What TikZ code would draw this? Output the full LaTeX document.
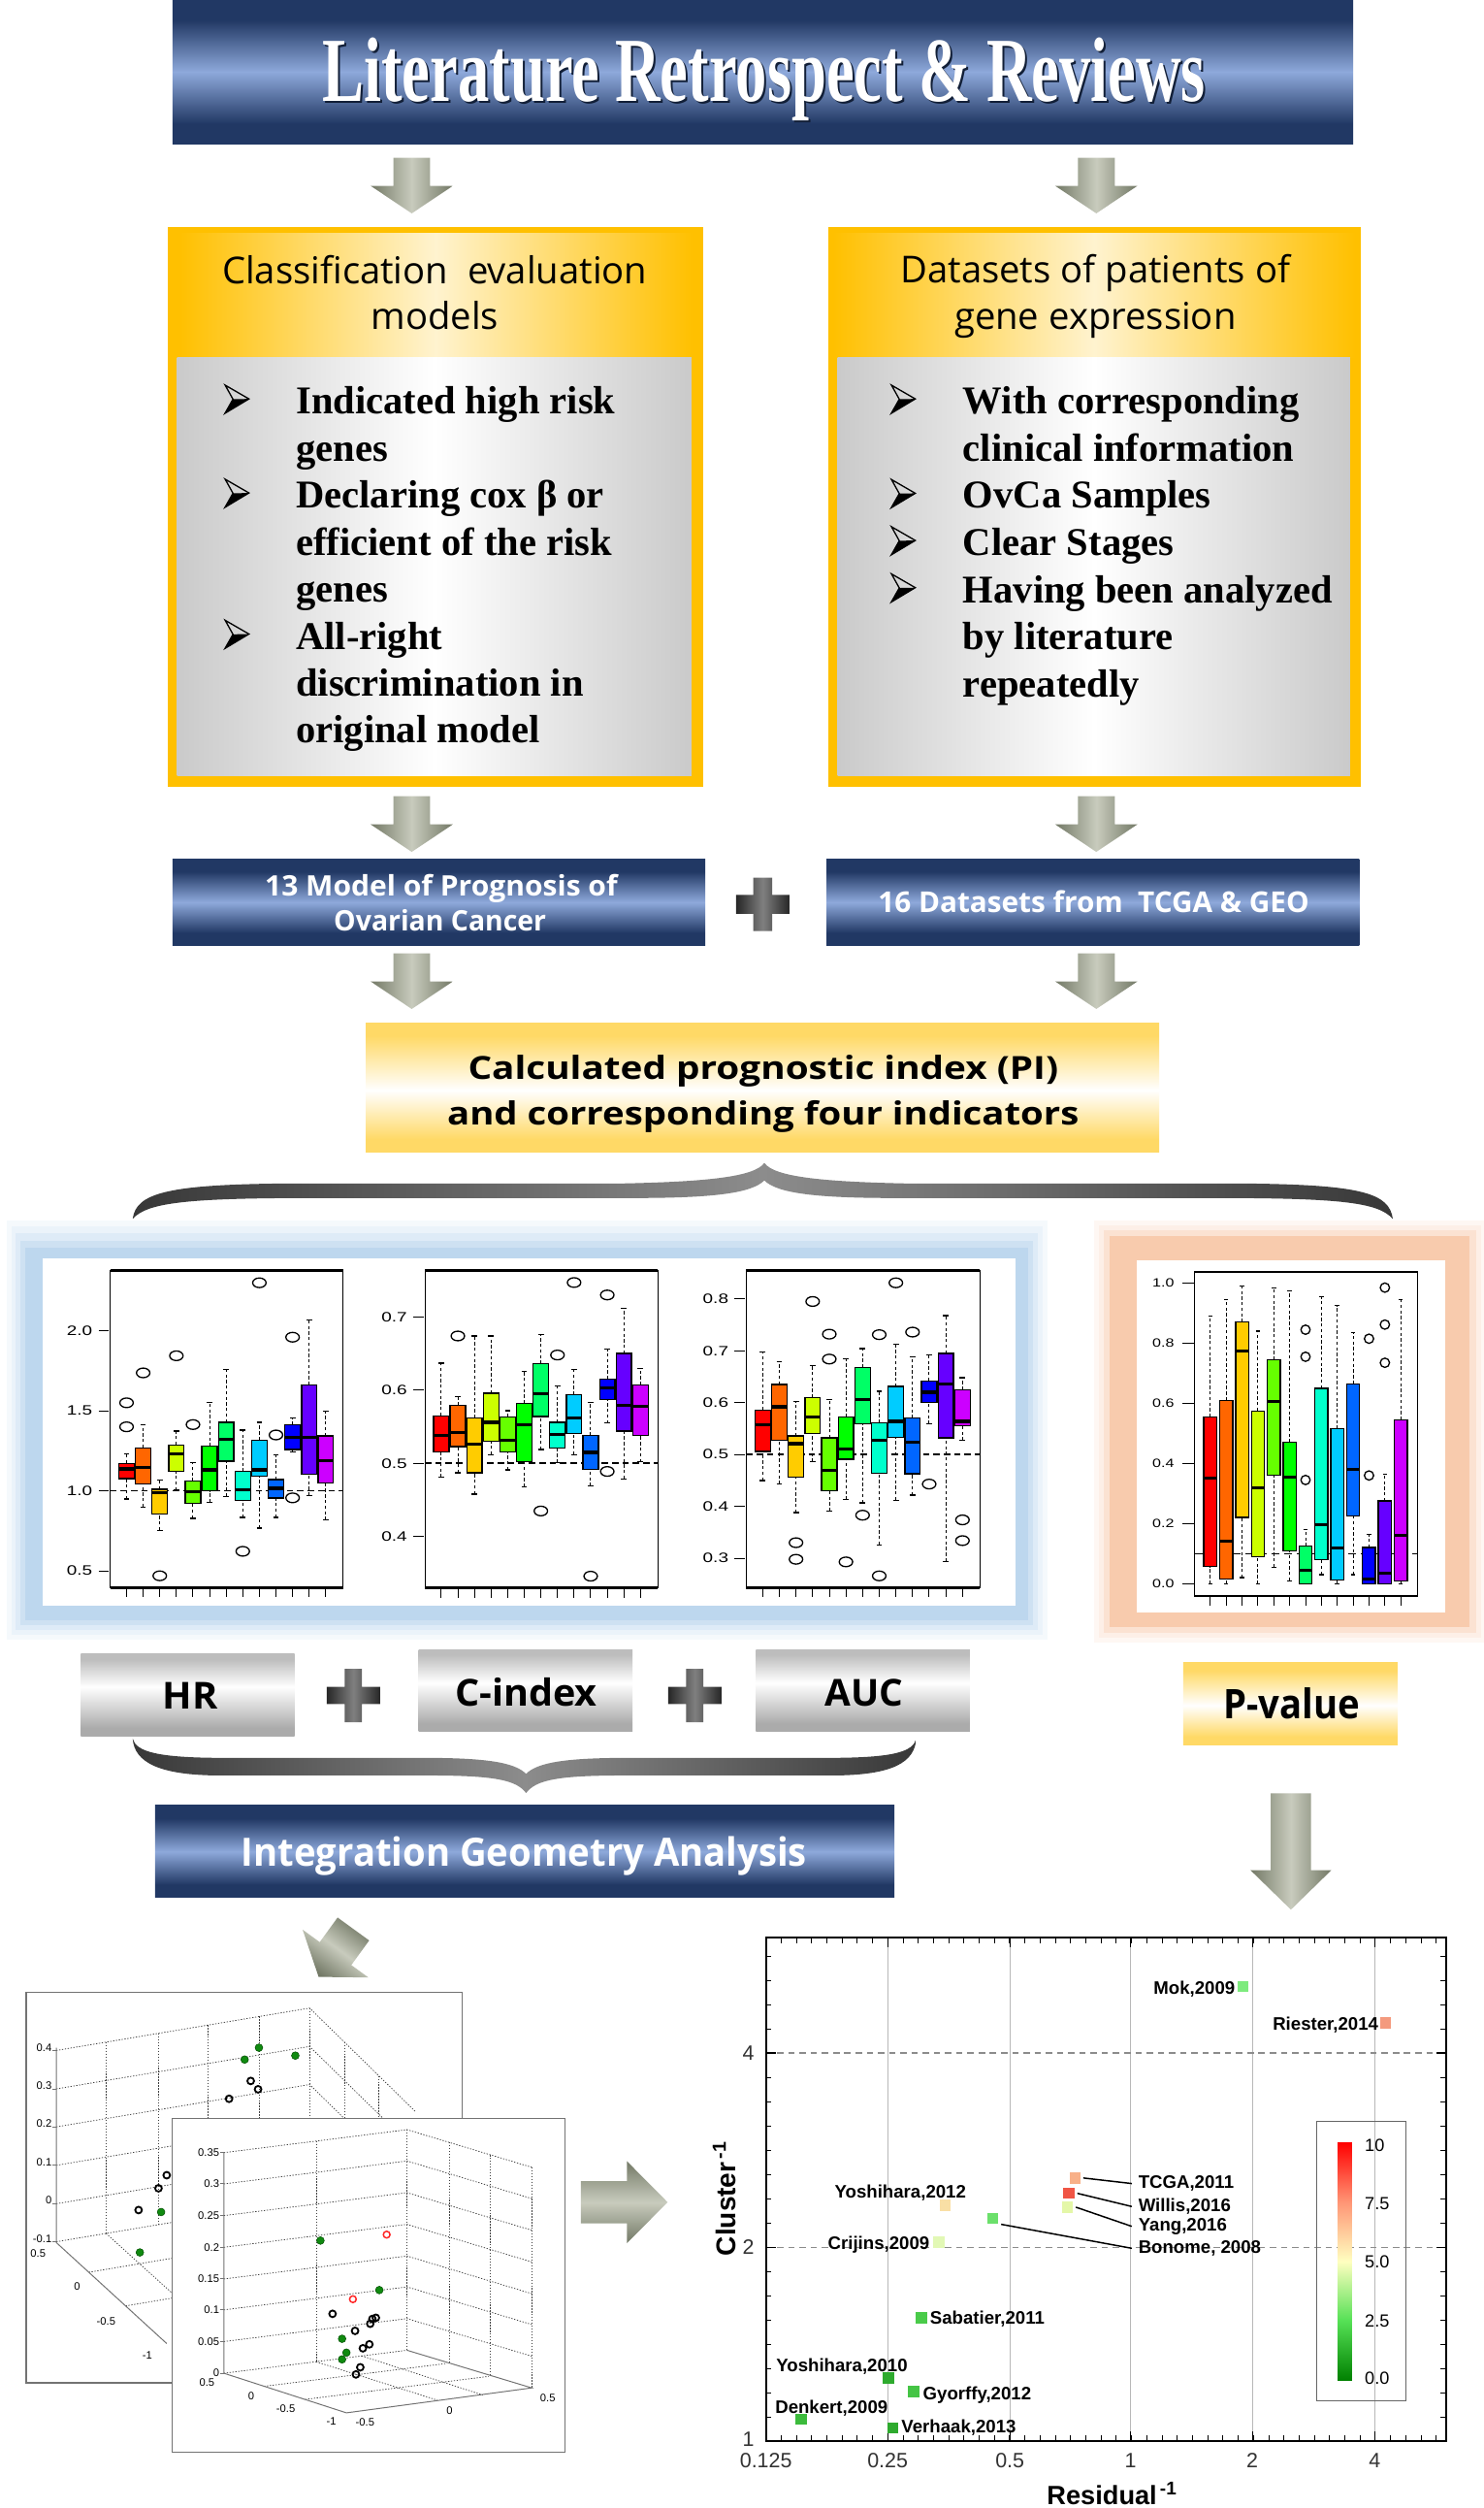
\documentclass[tikz,border=0pt]{standalone}
\usepackage{fontspec}
\usepackage{graphicx}
\setmainfont{Liberation Serif}
\newfontfamily\osans{Open Sans}
\newfontfamily\lsans{Liberation Sans}
\newcommand\fitt[3]{\resizebox{#1}{#2}{\rule{0pt}{\fontcharht\font`H}\smash{#3}}}

\definecolor{navy}{HTML}{213864}
\definecolor{navylt}{HTML}{8EA9DB}
\definecolor{orng}{HTML}{FFC000}
\definecolor{orngpale}{HTML}{FFF3CF}
\definecolor{ardark}{HTML}{737966}
\definecolor{arlt}{HTML}{C8CBBD}
\definecolor{yel}{HTML}{FFD966}
\definecolor{gbox}{HTML}{BDBDBD}
\definecolor{gboxd}{HTML}{ABABAB}
\definecolor{ginner}{HTML}{CACACA}
\definecolor{brdark}{HTML}{383838}
\definecolor{brlt}{HTML}{8C8C8C}
\definecolor{blueglow}{HTML}{BDD7EE}
\definecolor{orglow}{HTML}{F8CBAD}
\definecolor{c1}{HTML}{FF0000}
\definecolor{c2}{HTML}{FF6600}
\definecolor{c3}{HTML}{FFCC00}
\definecolor{c4}{HTML}{CCFF00}
\definecolor{c5}{HTML}{66FF00}
\definecolor{c6}{HTML}{00FF00}
\definecolor{c7}{HTML}{00FF66}
\definecolor{c8}{HTML}{00FFCC}
\definecolor{c9}{HTML}{00CCFF}
\definecolor{c10}{HTML}{0066FF}
\definecolor{c11}{HTML}{0000FF}
\definecolor{c12}{HTML}{6600FF}
\definecolor{c13}{HTML}{CC00FF}
\definecolor{cg0}{HTML}{008000}
\definecolor{cg1}{HTML}{55E055}
\definecolor{cg2}{HTML}{FFFFC0}
\definecolor{cg3}{HTML}{FF9575}
\definecolor{cg4}{HTML}{FF0000}
\definecolor{gridg}{HTML}{B8B8B8}
\definecolor{ptgreen}{HTML}{108A10}
\definecolor{smok}{HTML}{7EEB7E}
\definecolor{sries}{HTML}{F49A7E}
\definecolor{stcga}{HTML}{F8B088}
\definecolor{swil}{HTML}{F05545}
\definecolor{syang}{HTML}{E4F7A8}
\definecolor{sbon}{HTML}{6BE06B}
\definecolor{syone}{HTML}{F9DFA5}
\definecolor{scri}{HTML}{E2F8B5}
\definecolor{ssab}{HTML}{4ACB4A}
\definecolor{sytwo}{HTML}{2EAA2E}
\definecolor{sgy}{HTML}{45C445}
\definecolor{sden}{HTML}{3CBB3C}
\definecolor{sver}{HTML}{2EAA2E}

\pgfdeclareverticalshading{navybar}{100bp}{color(0bp)=(navy); color(32bp)=(navy); color(50bp)=(navylt); color(68bp)=(navy); color(100bp)=(navy)}
\pgfdeclareverticalshading{yelbar}{100bp}{color(0bp)=(yel); color(30bp)=(yel); color(49bp)=(white); color(70bp)=(yel); color(100bp)=(yel)}
\pgfdeclareverticalshading{graybar}{100bp}{color(0bp)=(gboxd); color(30bp)=(gboxd); color(55bp)=(white); color(72bp)=(gbox); color(100bp)=(gbox)}
\pgfdeclareverticalshading{cbar}{100bp}{color(0bp)=(cg0); color(25bp)=(cg0); color(37.5bp)=(cg1); color(50bp)=(cg2); color(62.5bp)=(cg3); color(75bp)=(cg4); color(100bp)=(cg4)}

\tikzset{
 navybox/.style={shade, shading=navybar, inner sep=0, outer sep=0},
 yelbox/.style={shade, shading=yelbar, inner sep=0, outer sep=0},
 graybox/.style={shade, shading=graybar, inner sep=0, outer sep=0},
 panelbox/.style={left color=ginner, right color=ginner, middle color=white, inner sep=0},
 arrowsh/.style={left color=ardark, right color=ardark, middle color=arlt},
 rightsh/.style={top color=ardark, bottom color=ardark, middle color=arlt},
 bracesh/.style={left color=brdark, right color=brdark, middle color=brlt},
 plussh/.style={left color=black!85, right color=black!85, middle color=black!50},
 wtxt/.style={anchor=base west, inner sep=0, text=white, font=\osans\bfseries\fontsize{16}{16}\selectfont},
 btxt/.style={anchor=base west, inner sep=0, text=black, font=\osans\bfseries\fontsize{18}{18}\selectfont},
 head/.style={anchor=base, inner sep=0, font=\osans\fontsize{23.2}{23.2}\selectfont},
 bul/.style={anchor=base west, inner sep=0, font=\rmfamily\bfseries\fontsize{24.6}{24.6}\selectfont},
 whisk/.style={line width=0.6pt, dash pattern=on 2pt off 1.5pt},
 capl/.style={line width=0.8pt},
 tl/.style={inner sep=0, font=\lsans\fontsize{8.5}{9}\selectfont},
 tlp/.style={inner sep=0, font=\lsans\fontsize{7.5}{8}\selectfont},
 tl3/.style={inner sep=0, font=\lsans\fontsize{6.8}{7}\selectfont},
 dotline/.style={line width=0.45pt, black!75, dash pattern=on 0.8pt off 1pt},
 axline/.style={line width=0.6pt, black!55},
 gpt/.style={fill=ptgreen, draw=green!30!black, line width=0.3pt},
 kpt/.style={draw=black, line width=1.1pt},
 rpt/.style={draw=red!85, line width=0.9pt},
 sq/.style={minimum width=7pt, minimum height=7pt, inner sep=0, draw=none},
 slab/.style={inner sep=0, font=\lsans\bfseries\fontsize{11.3}{12}\selectfont},
 snum/.style={inner sep=0, text=black!80, font=\lsans\fontsize{13}{13}\selectfont},
 cblab/.style={inner sep=0, font=\lsans\fontsize{11}{11}\selectfont, anchor=west},
 leader/.style={line width=0.9pt}
}

\newcommand\dnarrow[6]{\shade[arrowsh] (#1-#5,#2) -- (#1+#5,#2) -- (#1+#5,#3) -- (#1+#6,#3) -- (#1,#4) -- (#1-#6,#3) -- (#1-#5,#3) -- cycle;}
\newcommand\plussign[4]{\shade[plussh] (#1-#4,#2-#3) -- (#1+#4,#2-#3) -- (#1+#4,#2-#4) -- (#1+#3,#2-#4) -- (#1+#3,#2+#4) -- (#1+#4,#2+#4) -- (#1+#4,#2+#3) -- (#1-#4,#2+#3) -- (#1-#4,#2+#4) -- (#1-#3,#2+#4) -- (#1-#3,#2-#4) -- (#1-#4,#2-#4) -- cycle;}
% dart bullet: x = left edge, y = baseline
\newcommand\dartb[2]{%
 \fill[black] (#1+5.2,#2-9.2) -- (#1+15.2,#2-9.4) -- (#1+0.2,#2-0.4) -- cycle;%
 \draw[black, line width=0.8pt, line join=miter] (#1+0.3,#2-18) -- (#1+15.2,#2-9.4) -- (#1+0.2,#2-0.4) -- (#1+5.2,#2-9.2) -- cycle;}
\newcommand\bpb[7]{%
 \pgfmathsetmacro\bx{\bxo+\bxs*(#1-1)}%
 \draw[whisk] (\bx,#2) -- (\bx,#3) (\bx,#5) -- (\bx,#6);%
 \draw[capl] (\bx-\bcw,#2) -- (\bx+\bcw,#2) (\bx-\bcw,#6) -- (\bx+\bcw,#6);%
 \filldraw[fill=#7, draw=black, line width=0.8pt] (\bx-\bhw,#3) rectangle (\bx+\bhw,#5);%
 \draw[line width=1.9pt] (\bx-\bhw,#4) -- (\bx+\bhw,#4);}
\newcommand\bpo[2]{\pgfmathsetmacro\bx{\bxo+\bxs*(#1-1)}\draw[line width=0.8pt] (\bx,#2) ellipse [x radius=\orx, y radius=\ory];}

\begin{document}
\begin{tikzpicture}[x=1pt,y=-1pt]
\useasboundingbox (0,0) rectangle (928,1568);
\fill[white] (0,0) rectangle (928,1568);

% ---------- title ----------
\node[navybox, minimum width=738.4pt, minimum height=90pt] (titlebar) at (477.1,45) {};
\node[anchor=base west, inner sep=0, text=navy!55!black, font=\rmfamily\bfseries\fontsize{48}{48}\selectfont] (titleshadow) at (202.6,64.3) {\fitt{552.4pt}{37.5pt}{Literature Retrospect \& Reviews}};
\node[anchor=base west, inner sep=0, text=white, font=\rmfamily\bfseries\fontsize{48}{48}\selectfont] (title) at (201.4,63.1) {\fitt{552.4pt}{37.5pt}{Literature Retrospect \& Reviews}};

\dnarrow{257.5}{98.6}{116.2}{133.4}{11.5}{25.7}
\dnarrow{685.6}{98.6}{116.2}{133.4}{11.5}{25.7}

% ---------- left orange box ----------
\node[fill=orng, inner sep=0, minimum width=335.1pt, minimum height=349.8pt] (lbox) at (272.45,317.1) {};
\shade[left color=orng, right color=orng, middle color=orngpale] (112,146) rectangle (433,223.8);
\node[panelbox, minimum width=321.7pt, minimum height=261.2pt] (lpanel) at (271.55,354.4) {};
\node[head] (lh1) at (271.9,177.5) {Classification\ \ evaluation};
\node[head] (lh2) at (271.9,205.9) {models};
\dartb{140.5}{258.8}
\dartb{140.5}{317.6}
\dartb{140.5}{405.8}
\node[bul] (lt1) at (185,258.8) {Indicated high risk};
\node[bul] (lt2) at (185,288.2) {genes};
\node[bul] (lt3) at (185,317.6) {Declaring cox β or};
\node[bul] (lt4) at (185,347.0) {efficient of the risk};
\node[bul] (lt5) at (185,376.4) {genes};
\node[bul] (lt6) at (185,405.8) {All-right};
\node[bul] (lt7) at (185,435.2) {discrimination in};
\node[bul] (lt8) at (185,464.6) {original model};

% ---------- right orange box ----------
\node[fill=orng, inner sep=0, minimum width=332.9pt, minimum height=349.8pt] (rbox) at (684.35,317.1) {};
\shade[left color=orng, right color=orng, middle color=orngpale] (521,146) rectangle (847.5,223.5);
\node[panelbox, minimum width=320.4pt, minimum height=261.5pt] (rpanel) at (684,354.25) {};
\node[head] (rh1) at (685,177.1) {Datasets of patients of};
\node[head] (rh2) at (685,205.9) {gene expression};
\dartb{557.2}{258.8}
\dartb{557.2}{317.8}
\dartb{557.2}{347.3}
\dartb{557.2}{376.8}
\node[bul] (rt1) at (602.1,258.8) {With corresponding};
\node[bul] (rt2) at (602.1,288.3) {clinical information};
\node[bul] (rt3) at (602.1,317.8) {OvCa Samples};
\node[bul] (rt4) at (602.1,347.3) {Clear Stages};
\node[bul] (rt5) at (602.1,376.8) {Having been analyzed};
\node[bul] (rt6) at (602.1,406.3) {by literature};
\node[bul] (rt7) at (602.1,435.8) {repeatedly};

\dnarrow{257.5}{497.8}{515.4}{532.6}{11.5}{25.7}
\dnarrow{685.6}{497.8}{515.4}{532.6}{11.5}{25.7}

% ---------- navy bars ----------
\node[navybox, minimum width=333.2pt, minimum height=53.4pt] (models) at (274.5,564.1) {};
\node[navybox, minimum width=333.2pt, minimum height=53.4pt] (datasets) at (683.5,564.1) {};
\node[wtxt] (mt1) at (165.5,560) {\fitt{220.5pt}{12.6pt}{13 Model of Prognosis of}};
\node[wtxt] (mt2) at (208.6,582.3) {\fitt{132.8pt}{12.6pt}{Ovarian Cancer}};
\node[wtxt] (dt) at (549,570.5) {\fitt{269.5pt}{12.8pt}{16 Datasets from\ \ TCGA \& GEO}};
\plussign{477}{565.4}{16.7}{5.9}

\dnarrow{257.5}{596}{613.6}{630.8}{11.5}{25.7}
\dnarrow{685.6}{596}{613.6}{630.8}{11.5}{25.7}

% ---------- calculated box ----------
\node[yelbox, minimum width=496.3pt, minimum height=80.9pt] (calc) at (476.85,679.95) {};
\node[btxt] (ct1) at (292.5,674.8) {\fitt{369.2pt}{14.2pt}{Calculated prognostic index (PI)}};
\node[btxt] (ct2) at (279.5,703.1) {\fitt{395.1pt}{14.2pt}{and corresponding four indicators}};

% ---------- brace 1 ----------
\shade[bracesh] (83,762) .. controls (85,746) and (105,741) .. (171,740) -- (384,740) .. controls (440,739) and (472,736) .. (478,727) .. controls (484,736) and (516,739) .. (572,740) -- (785,740) .. controls (851,741) and (869,746) .. (871,762) .. controls (862,752) and (840,749) .. (760,749) -- (560,749) .. controls (510,749) and (486,746) .. (478,738) .. controls (470,746) and (446,749) .. (396,749) -- (196,749) .. controls (116,749) and (92,752) .. (83,762) -- cycle;

% ---------- glow frames ----------
\fill[blueglow!15] (4,763) rectangle (655,1025);
\fill[blueglow!30] (7,767) rectangle (652,1022);
\fill[blueglow!50] (10,771) rectangle (649,1019);
\fill[blueglow!75] (13,776) rectangle (646,1016);
\fill[blueglow] (16,780) rectangle (643,1013);
\node[fill=white, inner sep=0, minimum width=608.2pt, minimum height=216.8pt] (bluepanel) at (330.7,895.4) {};
\fill[orglow!15] (684,763) rectangle (928,1027);
\fill[orglow!30] (687,766) rectangle (926,1024);
\fill[orglow!55] (690,769) rectangle (923,1021);
\fill[orglow] (694,773) rectangle (919,1017);
\node[fill=white, inner sep=0, minimum width=193pt, minimum height=220pt] (orpanel) at (807.5,898) {};

% ---------- plot 1 (HR) ----------
\def\bxo{0.0704}\def\bxs{0.0713}\def\bhw{0.033}\def\bcw{0.012}\def\orx{4.2pt}\def\ory{3pt}
\begin{scope}[shift={(68.9,1032.1)}, x=145.6pt, y=100.05pt]
\draw[dashed, line width=1pt, dash pattern=on 4pt off 2.5pt] (0,1) -- (1,1);
\bpb{1}{0.949}{1.077}{1.137}{1.172}{1.232}{c1}\bpo{1}{1.55}\bpo{1}{1.40}
\bpb{2}{0.899}{1.044}{1.145}{1.269}{1.414}{c2}\bpo{2}{1.737}
\bpb{3}{0.754}{0.855}{0.986}{1.01}{1.067}{c3}\bpo{3}{0.469}
\bpb{4}{1.004}{1.121}{1.232}{1.287}{1.374}{c4}\bpo{4}{1.844}
\bpb{5}{0.828}{0.923}{0.994}{1.06}{1.176}{c5}\bpo{5}{1.414}
\bpb{6}{0.929}{1.0}{1.131}{1.279}{1.552}{c6}
\bpb{7}{0.964}{1.186}{1.323}{1.428}{1.758}{c7}
\bpb{8}{0.834}{0.939}{1.006}{1.121}{1.38}{c8}\bpo{8}{0.622}
\bpb{9}{0.768}{1.091}{1.131}{1.317}{1.428}{c9}\bpo{9}{2.30}
\bpb{10}{0.834}{0.956}{1.016}{1.071}{1.226}{c10}\bpo{10}{1.349}
\bpb{11}{1.242}{1.259}{1.333}{1.412}{1.455}{c11}\bpo{11}{1.96}\bpo{11}{0.956}
\bpb{12}{0.97}{1.105}{1.333}{1.661}{2.067}{c12}
\bpb{13}{0.818}{1.05}{1.186}{1.343}{1.499}{c13}
\draw[line width=0.6pt] (0,0.394) rectangle (1,2.378);
\draw[line width=1.6pt] (0,2.378) -- (1,2.378) (0,0.394) -- (1,0.394);
\foreach \vv [count=\k] in {0.5,1.0,1.5,2.0} {\draw[line width=0.5pt] (-0.05,\vv) -- (-0.005,\vv); \node[tl, anchor=east] (pa\k) at (-0.075,\vv) {\scalebox{1.35}[1]{\vv}};}
\foreach \i in {1,...,13} \draw[line width=0.6pt] ({\bxo+\bxs*(\i-1)},0.394) -- ++(0pt,-6pt);
\end{scope}

% ---------- plot 2 (C-index) ----------
\begin{scope}[shift={(265.7,1143.8)}, x=145.6pt, y=457.8pt]
\draw[dashed, line width=1pt, dash pattern=on 4pt off 2.5pt] (0,0.5) -- (1,0.5);
\bpb{1}{0.481}{0.5155}{0.538}{0.565}{0.637}{c1}
\bpb{2}{0.487}{0.523}{0.542}{0.579}{0.591}{c2}\bpo{2}{0.674}
\bpb{3}{0.458}{0.487}{0.526}{0.562}{0.674}{c3}
\bpb{4}{0.512}{0.530}{0.556}{0.596}{0.674}{c4}
\bpb{5}{0.491}{0.516}{0.532}{0.563}{0.572}{c5}
\bpb{6}{0.468}{0.502}{0.553}{0.582}{0.626}{c6}
\bpb{7}{0.519}{0.564}{0.595}{0.636}{0.676}{c7}\bpo{7}{0.435}
\bpb{8}{0.501}{0.521}{0.540}{0.556}{0.606}{c8}\bpo{8}{0.648}
\bpb{9}{0.512}{0.541}{0.562}{0.594}{0.628}{c9}\bpo{9}{0.747}
\bpb{10}{0.469}{0.492}{0.515}{0.538}{0.583}{c10}\bpo{10}{0.346}
\bpb{11}{0.555}{0.587}{0.603}{0.615}{0.656}{c11}\bpo{11}{0.730}\bpo{11}{0.489}
\bpb{12}{0.479}{0.544}{0.579}{0.650}{0.712}{c12}
\bpb{13}{0.502}{0.538}{0.578}{0.607}{0.630}{c13}
\draw[line width=0.6pt] (0,0.33) rectangle (1,0.7636);
\draw[line width=1.6pt] (0,0.7636) -- (1,0.7636) (0,0.33) -- (1,0.33);
\foreach \vv [count=\k] in {0.4,0.5,0.6,0.7} {\draw[line width=0.5pt] (-0.05,\vv) -- (-0.005,\vv); \node[tl, anchor=east] (pb\k) at (-0.075,\vv) {\scalebox{1.35}[1]{\vv}};}
\foreach \i in {1,...,13} \draw[line width=0.6pt] ({\bxo+\bxs*(\i-1)},0.33) -- ++(0pt,-6pt);
\end{scope}

% ---------- plot 3 (AUC) ----------
\begin{scope}[shift={(466.7,1071.5)}, x=146pt, y=324.3pt]
\draw[dashed, line width=1pt, dash pattern=on 4pt off 2.5pt] (0,0.5) -- (1,0.5);
\bpb{1}{0.450}{0.506}{0.558}{0.586}{0.698}{c1}
\bpb{2}{0.443}{0.528}{0.592}{0.635}{0.679}{c2}
\bpb{3}{0.388}{0.456}{0.521}{0.536}{0.602}{c3}\bpo{3}{0.330}\bpo{3}{0.298}
\bpb{4}{0.486}{0.541}{0.572}{0.610}{0.672}{c4}\bpo{4}{0.795}
\bpb{5}{0.391}{0.430}{0.469}{0.532}{0.606}{c5}\bpo{5}{0.732}\bpo{5}{0.684}
\bpb{6}{0.413}{0.491}{0.511}{0.572}{0.684}{c6}\bpo{6}{0.293}
\bpb{7}{0.407}{0.559}{0.606}{0.668}{0.704}{c7}\bpo{7}{0.383}
\bpb{8}{0.326}{0.464}{0.528}{0.561}{0.622}{c8}\bpo{8}{0.731}\bpo{8}{0.266}
\bpb{9}{0.412}{0.533}{0.564}{0.631}{0.712}{c9}\bpo{9}{0.831}
\bpb{10}{0.422}{0.463}{0.524}{0.570}{0.688}{c10}\bpo{10}{0.736}
\bpb{11}{0.559}{0.600}{0.620}{0.642}{0.692}{c11}\bpo{11}{0.443}
\bpb{12}{0.294}{0.532}{0.636}{0.695}{0.768}{c12}
\bpb{13}{0.527}{0.555}{0.564}{0.625}{0.648}{c13}\bpo{13}{0.374}\bpo{13}{0.334}
\draw[line width=0.6pt] (0,0.243) rectangle (1,0.855);
\draw[line width=1.6pt] (0,0.855) -- (1,0.855) (0,0.243) -- (1,0.243);
\foreach \vv [count=\k] in {0.3,0.4,0.5,0.6,0.7,0.8} {\draw[line width=0.5pt] (-0.05,\vv) -- (-0.005,\vv); \node[tl, anchor=east] (pc\k) at (-0.075,\vv) {\scalebox{1.35}[1]{\vv}};}
\foreach \i in {1,...,13} \draw[line width=0.6pt] ({\bxo+\bxs*(\i-1)},0.243) -- ++(0pt,-6pt);
\end{scope}

% ---------- plot 4 (P-value) ----------
\def\bxo{0.0708}\def\bxs{0.0711}\def\bhw{0.029}\def\bcw{0.01}\def\orx{2.9pt}\def\ory{2.9pt}
\begin{scope}[shift={(747,990.1)}, x=139.6pt, y=187.9pt]
\draw[line width=0.8pt, dash pattern=on 5pt off 3pt] (0,0.1) -- (1,0.1);
\bpb{1}{0.0}{0.057}{0.35}{0.555}{0.89}{c1}
\bpb{2}{0.0}{0.015}{0.14}{0.61}{0.945}{c2}
\bpb{3}{0.02}{0.22}{0.775}{0.87}{0.99}{c3}
\bpb{4}{0.0}{0.09}{0.32}{0.575}{0.84}{c4}
\bpb{5}{0.055}{0.36}{0.605}{0.745}{0.985}{c5}
\bpb{6}{0.01}{0.11}{0.355}{0.47}{0.975}{c6}
\bpb{7}{0.0}{0.0}{0.045}{0.125}{0.18}{c7}\bpo{7}{0.845}\bpo{7}{0.755}\bpo{7}{0.345}
\bpb{8}{0.03}{0.08}{0.195}{0.65}{0.955}{c8}
\bpb{9}{0.0}{0.012}{0.12}{0.515}{0.925}{c9}
\bpb{10}{0.03}{0.225}{0.38}{0.665}{0.835}{c10}
\bpb{11}{0.0}{0.0}{0.015}{0.12}{0.165}{c11}\bpo{11}{0.815}\bpo{11}{0.36}
\bpb{12}{0.0}{0.0}{0.035}{0.275}{0.365}{c12}\bpo{12}{0.985}\bpo{12}{0.862}\bpo{12}{0.735}
\bpb{13}{0.0}{0.01}{0.16}{0.545}{0.945}{c13}
\draw[line width=0.9pt] (0,-0.041) rectangle (1,1.037);
\foreach \vv [count=\k] in {0.0,0.2,0.4,0.6,0.8,1.0} {\draw[line width=0.5pt] (-0.054,\vv) -- (-0.004,\vv); \node[tlp, anchor=east] (pd\k) at (-0.09,\vv) {\scalebox{1.3}[1]{\vv}};}
\foreach \i in {1,...,13} \draw[line width=0.6pt] ({\bxo+\bxs*(\i-1)},-0.041) -- ++(0pt,-6pt);
\end{scope}

% ---------- HR / C-index / AUC ----------
\node[graybox, minimum width=133.7pt, minimum height=51.1pt] (hr) at (117.35,1059.75) {};
\node[graybox, minimum width=133.8pt, minimum height=51.2pt] (cidx) at (328.7,1057.1) {};
\node[graybox, minimum width=133.7pt, minimum height=51.2pt] (auc) at (539.65,1057.1) {};
\node[btxt] (hrt) at (101.4,1068.5) {\fitt{34.5pt}{16.6pt}{HR}};
\node[btxt] (cit) at (284.5,1066.5) {\fitt{88.8pt}{16.6pt}{C-index}};
\node[btxt] (auct) at (515.6,1066.5) {\fitt{49pt}{16.6pt}{AUC}};
\plussign{221}{1060}{16.7}{5.4}
\plussign{434.5}{1060}{16.7}{5.4}

\node[yelbox, minimum width=134pt, minimum height=51.8pt] (pval) at (807,1065.1) {};
\node[btxt] (pvt) at (764.9,1074.6) {\fitt{85.3pt}{18.2pt}{P-value}};

% ---------- brace 2 ----------
\shade[bracesh] (83,1087) .. controls (85,1095) and (98,1099) .. (140,1099) -- (265,1099) .. controls (305,1099) and (322,1102) .. (329,1109) .. controls (336,1102) and (353,1099) .. (393,1099) -- (518,1099) .. controls (560,1099) and (571,1095) .. (573,1087) .. controls (572,1102) and (558,1110) .. (520,1110) -- (390,1110) .. controls (348,1110) and (335,1113) .. (329,1121) .. controls (323,1113) and (310,1110) .. (268,1110) -- (138,1110) .. controls (100,1110) and (84,1102) .. (83,1087) -- cycle;

\node[navybox, minimum width=462.4pt, minimum height=57.6pt] (integ) at (328.1,1157.6) {};
\node[wtxt] (intt) at (150.8,1167) {\fitt{353.6pt}{17.4pt}{Integration Geometry Analysis}};

\dnarrow{807.3}{1121.1}{1169.2}{1193.9}{12.6}{25.3}

% diagonal arrow
\begin{scope}[shift={(221,1206)}, rotate=-126]
\shade[top color=ardark, bottom color=ardark, middle color=arlt, shading angle=-36] (0,-12.2) -- (19,-12.2) -- (19,-25.4) -- (37,0) -- (19,25.4) -- (19,12.2) -- (0,12.2) -- cycle;
\end{scope}
% right arrow
\shade[rightsh] (363.3,1363.6) -- (392.1,1363.6) -- (392.1,1351.2) -- (417.5,1376.8) -- (392.1,1402.4) -- (392.1,1390) -- (363.3,1390) -- cycle;

% ---------- 3D back panel ----------
\node[draw=black!55, fill=white, line width=0.8pt, inner sep=0, minimum width=272.9pt, minimum height=244.3pt] (back3d) at (152.75,1367.65) {};
\begin{scope}[shift={(0,1176.7)}, x=0.2708pt, y=-0.2476pt]
\foreach \yy in {425,522,618,715,812,908} \draw[dotline] (130,\yy) -- (715,\yy-107) -- (960,\yy+155);
\foreach \xx in {245,365,480,598,715} \draw[dotline] (\xx,{425-0.18291*(\xx-130)}) -- (\xx,{908-0.18291*(\xx-130)});
\foreach \xx in {795,875} \draw[dotline] (\xx,{318+1.0694*(\xx-715)}) -- (\xx,{801+1.0694*(\xx-715)});
\draw[dotline] (205,985) -- (805,875);
\draw[dotline] (290,1070) -- (890,960);
\draw[dotline] (245,887) -- (420,1060);
\draw[axline] (130,418) -- (130,910) -- (385,1165);
\foreach \yy/\lab [count=\k] in {425/0.4,522/0.3,618/0.2,715/0.1,812/0,908/-0.1} {\draw[axline] (122,\yy) -- (130,\yy); \node[tl3, anchor=east] (bl\k) at (120,\yy-8) {\lab};}
\node[tl3] (bl7) at (88,937) {0.5};
\node[tl3] (bl8) at (178,1020) {0};
\node[tl3] (bl9) at (245,1110) {-0.5};
\node[tl3] (bl10) at (340,1195) {-1};
\foreach \px/\py in {598/418,565/448,682/438,372/833,323/935} \filldraw[gpt] (\px,\py) circle[radius=2.4pt];
\foreach \px/\py in {579/502,596/523,529/547,385/740,366/773,320/828} \draw[kpt] (\px,\py) circle[radius=2.1pt];
\end{scope}

% ---------- 3D front panel ----------
\node[draw=black!55, fill=white, line width=0.8pt, inner sep=0, minimum width=245.6pt, minimum height=208.7pt] (front3d) at (230.6,1428.85) {};
\begin{scope}[shift={(0,1176.7)}, x=0.2708pt, y=-0.2476pt]
\foreach \yy in {683,762,842,922,1002,1080,1160} \draw[dotline] (517,\yy) -- (940,\yy-58) -- (1228,\yy+37);
\draw[dotline] (517,1240) -- (940,1182);
\draw[dotline] (730,654) -- (730,1211);
\draw[dotline] (940,625) -- (940,1182);
\draw[dotline] (1037,657) -- (1037,1214);
\draw[dotline] (1132,689) -- (1132,1246);
\draw[dotline] (1228,720) -- (1228,1277);
\draw[dotline] (610,1273) -- (1033,1215);
\draw[dotline] (705,1306) -- (1128,1248);
\draw[dotline] (730,1211) -- (1010,1308);
\draw[dotline] (835,1196) -- (1115,1295);
\draw[axline] (517,683) -- (517,1240) -- (800,1340) -- (1228,1277) -- (940,1182);
\foreach \yy/\lab [count=\k] in {683/0.35,762/0.3,842/0.25,922/0.2,1002/0.15,1080/0.1,1160/0.05,1240/0} {\draw[axline] (509,\yy) -- (517,\yy); \node[tl3, anchor=east] (fl\k) at (507,\yy) {\lab};}
\node[tl3] (fl9) at (478,1264) {0.5};
\node[tl3] (fl10) at (580,1298) {0};
\node[tl3] (fl11) at (660,1330) {-0.5};
\node[tl3] (fl12) at (765,1362) {-1};
\node[tl3] (fl13) at (843,1365) {-0.5};
\node[tl3] (fl14) at (1038,1335) {0};
\node[tl3] (fl15) at (1265,1302) {0.5};
\foreach \px/\py in {740/905,876/1030,790/1153,800/1188,790/1205} \filldraw[gpt] (\px,\py) circle[radius=2.4pt];
\foreach \px/\py in {893/890,815/1053} \draw[rpt] (\px,\py) circle[radius=2.1pt];
\foreach \px/\py in {768/1090,820/1133,860/1103,868/1100,855/1115,853/1167,838/1177,832/1225,822/1243} \draw[kpt] (\px,\py) circle[radius=2.1pt];
\end{scope}

% ---------- scatter plot ----------
\begin{scope}[shift={(436.7,1200.9)}, x=0.3133pt, y=-0.2340pt]
\foreach \xx in {378,622,863,1106,1350} \draw[gridg, line width=0.6pt] (\xx,45) -- (\xx,1390);
\foreach \yy in {353,872} \draw[black!45, line width=0.7pt, dash pattern=on 4pt off 3pt] (135,\yy) -- (1492,\yy);
\foreach \k in {1,...,44} {\draw[line width=0.6pt] ({135+\k*30.41},45) -- ++(0pt,-3.5pt); \draw[line width=0.6pt] ({135+\k*30.41},1390) -- ++(0pt,3.5pt);}
\foreach \k in {1,...,20} {\draw[line width=0.6pt] (135,{1390-\k*64.75}) -- ++(3.5pt,0pt); \draw[line width=0.6pt] (1492,{1390-\k*64.75}) -- ++(-3.5pt,0pt);}
\foreach \xx in {378,622,863,1106,1350} {\draw[line width=0.8pt] (\xx,45) -- ++(0pt,-6pt); \draw[line width=0.8pt] (\xx,1390) -- ++(0pt,6pt);}
\foreach \yy in {353,872} {\draw[line width=0.8pt] (135,\yy) -- ++(6pt,0pt); \draw[line width=0.8pt] (1492,\yy) -- ++(-6pt,0pt);}
\draw[line width=1.3pt] (135,45) rectangle (1492,1390);
\foreach \xx/\lab [count=\k] in {135/0.125,378/0.25,622/0.5,863/1,1106/2,1350/4} \node[snum, anchor=north] (sx\k) at (\xx,1422) {\lab};
\foreach \yy/\lab [count=\k] in {353/4,872/2,1385/1} \node[snum, anchor=east] (sy\k) at (112,\yy) {\lab};
\node[rotate=90, anchor=base, inner sep=0, font=\lsans\bfseries\fontsize{17}{17}\selectfont] (ylab) at (75,742) {Cluster\textsuperscript{\,-1}};
\node[anchor=base, inner sep=0, font=\lsans\bfseries\fontsize{16.5}{16.5}\selectfont] (xlab) at (826,1560) {Residual\textsuperscript{\,-1}};
% colour bar
\draw[black!60, line width=0.8pt] (1235,535) rectangle (1412,1283);
\shade[shading=cbar] (1276,592) rectangle (1305,1228);
\node[cblab] (cb1) at (1330,600) {10};
\node[cblab] (cb2) at (1330,755) {7.5};
\node[cblab] (cb3) at (1330,912) {5.0};
\node[cblab] (cb4) at (1330,1068) {2.5};
\node[cblab] (cb5) at (1330,1222) {0.0};
% points
\node[sq, fill=smok] (mok) at (1087,175) {};
\node[sq, fill=sries] (riester) at (1372,272) {};
\node[sq, fill=stcga] (tcga) at (752,687) {};
\node[sq, fill=swil] (willis) at (740,728) {};
\node[sq, fill=syang] (yang) at (737,765) {};
\node[sq, fill=sbon] (bonome) at (588,795) {};
\node[sq, fill=syone] (yosh12) at (493,760) {};
\node[sq, fill=scri] (crijins) at (480,858) {};
\node[sq, fill=ssab] (sabatier) at (445,1060) {};
\node[sq, fill=sytwo] (yosh10) at (380,1222) {};
\node[sq, fill=sgy] (gyorffy) at (430,1257) {};
\node[sq, fill=sden] (denkert) at (205,1332) {};
\node[sq, fill=sver] (verhaak) at (388,1355) {};
\node[slab, anchor=base east] (mokL) at (1072,195) {Mok,2009};
\node[slab, anchor=base east] (riL) at (1358,292) {Riester,2014};
\node[slab, anchor=base west] (tcgaL) at (878,715) {TCGA,2011};
\node[slab, anchor=base west] (wilL) at (878,777) {Willis,2016};
\node[slab, anchor=base west] (yangL) at (878,828) {Yang,2016};
\node[slab, anchor=base west] (bonL) at (878,888) {Bonome, 2008};
\node[slab, anchor=base east] (y12L) at (535,740) {Yoshihara,2012};
\node[slab, anchor=base east] (crL) at (462,878) {Crijins,2009};
\node[slab, anchor=base west] (sabL) at (462,1077) {Sabatier,2011};
\node[slab, anchor=base west] (y10L) at (155,1205) {Yoshihara,2010};
\node[slab, anchor=base west] (gyL) at (448,1280) {Gyorffy,2012};
\node[slab, anchor=base west] (denL) at (153,1315) {Denkert,2009};
\node[slab, anchor=base west] (verL) at (405,1368) {Verhaak,2013};
\draw[leader] ([xshift=1.5pt]tcga.east) -- ([xshift=-4pt]tcgaL.west);
\draw[leader] ([xshift=1.5pt]willis.east) -- ([xshift=-4pt]wilL.west);
\draw[leader] ([xshift=1.5pt]yang.east) -- ([xshift=-4pt]yangL.west);
\draw[leader] ([xshift=1.5pt]bonome.south east) -- ([xshift=-4pt]bonL.west);
\end{scope}
\end{tikzpicture}
\end{document}
